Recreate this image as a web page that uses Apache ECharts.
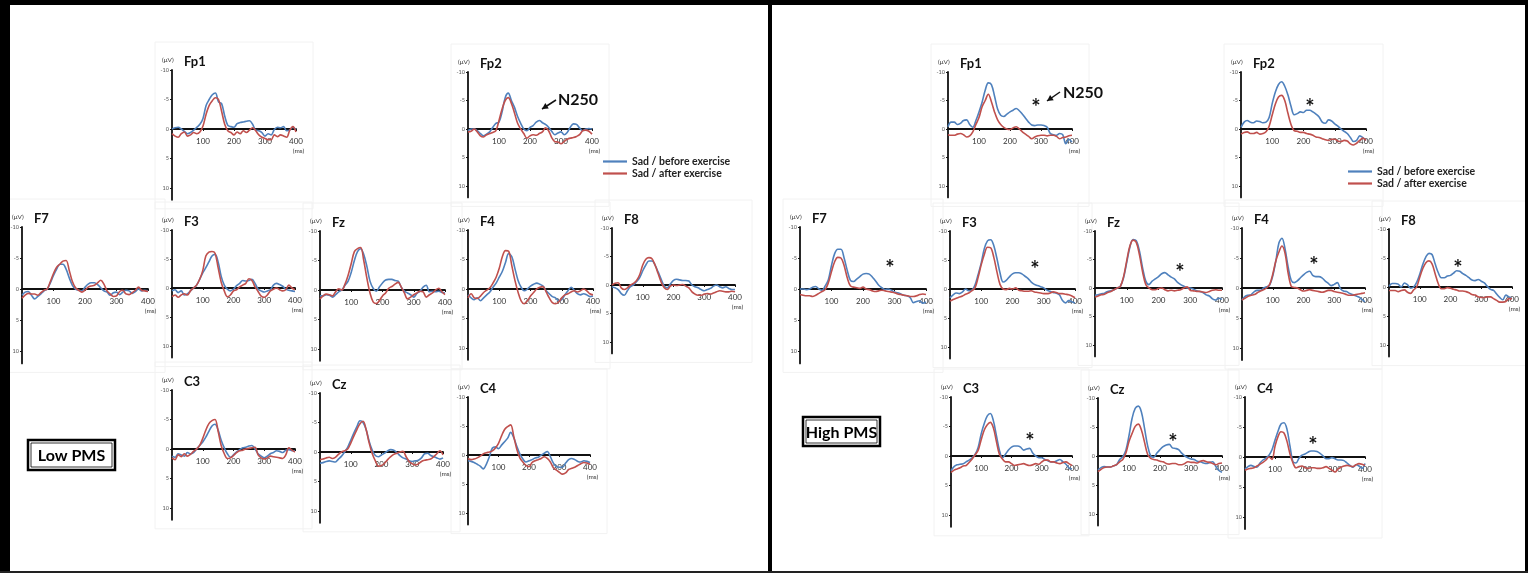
<!DOCTYPE html>
<html><head><meta charset="utf-8">
<script src="https://cdn.jsdelivr.net/npm/echarts@6/dist/echarts.min.js"></script>
<style>html,body{margin:0;padding:0;background:#fff}#c{width:1528px;height:573px}</style>
</head><body><div id="c"></div>
<script>
// ---------------- DATA ----------------
const times = [0,10,20,30,40,50,60,70,80,90,100,110,120,130,140,150,160,170,180,190,200,210,220,230,240,250,260,270,280,290,300,310,320,330,340,350,360,370,380,390,400];
const xTickLabels = [100,200,300,400];
const yTickLabels = [-10,-5,0,5,10];
const electrodes = ['Fp1','Fp2','F7','F3','Fz','F4','F8','C3','Cz','C4'];
const seriesNames = ['Sad / before exercise','Sad / after exercise'];
const groupNames = ['Low PMS','High PMS'];

// Low PMS (µV, negative up)
const lowFp1Before = [0,-0.2,-0.3,0,0.4,0.8,0.6,0.2,-0.3,-0.8, -1.8,-4.0,-5.0,-5.8,-6.1,-4.6,-4.3,-2.2,-0.6,-0.4, -0.3,-0.9,-1.1,-1.2,-1.3,-1.4,-0.8,0.2,0.3,0.6, 1.2,0.8,1.0,0.1,-0.3,-0.2,-0.4,0.3,0.2,-0.3, 0.1];
const lowFp1After  = [0.8,1.2,1.4,0.8,0.5,1.2,1.0,0.6,0.8,0.5, -0.5,-2.5,-4.0,-4.8,-5.3,-5.0,-3.0,-0.8,0.3,0.6, 1.0,0.5,0.8,0.3,0.6,0.2,-0.2,0.3,1.0,1.4, 1.6,1.8,1.8,1.0,1.3,1.0,1.2,1.4,0.2,-0.4, 0.5];
const lowFp2Before = [0.3,0,0,0.3,0.8,1.2,0.9,0.5,-0.3,-1.0, -1.2,-3.0,-5.5,-6.3,-5.0,-3.8,-2.2,-1.0,0,0.3, -0.3,-0.6,-1.2,-1.5,-1.1,-0.8,-0.3,0.4,1.0,0.7, 0.5,1.0,0.6,-0.3,-0.9,-0.8,-0.2,0.3,0,-0.1, 0];
const lowFp2After  = [0.5,0.4,0,0.5,1.2,1.4,1.0,0.8,0.6,0.3, -1.5,-3.5,-5.0,-5.5,-4.5,-2.8,-1.0,0,0.8,1.6, 1.2,1.0,1.1,0.8,0.5,-0.2,0.3,1.5,2.2,2.3, 2.6,2.2,1.8,1.6,1.5,1.3,1.0,0.3,0.2,0.4, 0.9];
const lowF7Before  = [1.0,0.5,0.4,1.0,1.6,1.2,0.8,0.3,0,-1.0, -2.2,-3.2,-4.0,-4.0,-3.2,-1.8,-0.6,0,0.2,0.3, -0.3,-0.8,-1.0,-1.0,-0.7,-0.2,0.3,0.5,1.0,0.6, 0.5,0.9,0.5,0.2,0.3,0.7,0.4,0,0.3,0.2, 0.3];
const lowF7After   = [1.5,1.0,0.7,0.8,0.8,1.0,0.6,0.2,0,-1.2, -2.5,-3.5,-4.0,-4.5,-4.6,-3.0,-1.2,-0.2,0.2,0.5, 0.2,-0.3,-0.5,-0.6,-1.0,-1.4,-0.8,0.3,0.8,1.2, 1.1,0.4,0.2,0.8,0.9,0.6,0.2,-0.3,0.2,0.3, 0.4];
const lowF3Before  = [0.5,0.3,0.8,0.5,1.2,1.0,0.5,0,-0.5,-1.5, -2.6,-3.5,-4.5,-5.5,-5.8,-4.5,-2.0,-0.5,0.2,0.5, 0.2,-0.4,-0.8,-1.3,-1.2,-1.3,-1.5,-0.8,0.2,0.5, 0.7,0.5,0.3,-0.5,-0.8,-0.6,-0.3,0.2,0.4,0.5, 0.6];
const lowF3After   = [1.5,1.2,1.6,1.2,1.0,1.2,0.5,0,-0.5,-1.5, -3.0,-5.5,-6.2,-6.3,-6.0,-3.5,-1.0,0.5,1.5,1.2, 0.5,0.3,-0.2,-0.5,-0.8,-1.6,-1.3,-0.2,0.6,1.4, 1.6,1.2,0.5,0.2,0,0.3,0.5,0.3,-0.5,0, 0.3];
const lowFzBefore  = [1.0,1.0,0.8,0.9,1.2,0.8,0.3,0,-0.8,-1.5, -3.0,-5.0,-6.5,-7.0,-6.0,-4.0,-1.5,-0.3,0.2,-0.5, -1.2,-1.7,-1.8,-1.8,-1.6,-1.5,-0.5,0.2,0.5,0.8, 1.2,0.6,0.2,-0.5,-0.8,0.3,0.2,0.3,0.2,0.4, 0.5];
const lowFzAfter   = [1.5,1.0,0.7,0.8,1.0,0.3,-0.2,0,-1.0,-2.5, -4.5,-6.5,-7.0,-7.2,-5.0,-2.0,0.5,2.0,2.3,1.8, 1.0,0.5,-0.3,-0.6,-1.0,-1.3,-0.5,0.5,1.5,1.2, 0.8,0.5,0.2,0.3,1.2,0.8,0.5,0,-0.3,0.3, 0.8];
const lowF4Before  = [1.0,1.5,1.8,1.5,2.0,1.5,1.0,0.5,-0.3,-1.0, -2.0,-3.0,-4.5,-6.0,-5.5,-3.5,-1.5,-0.3,0.3,0, -0.5,-0.8,-1.0,-0.8,-0.5,0.3,0.8,1.3,1.5,2.0, 1.8,1.0,0.3,-0.3,0.2,0.8,1.0,0.8,1.0,1.3, 1.2];
const lowF4After   = [1.5,0.8,1.5,1.6,1.2,0.6,0.2,-0.2,-1.0,-2.0, -3.5,-5.5,-6.5,-6.4,-4.0,-1.5,0.5,2.0,2.5,2.0, 1.2,0.6,0,-0.3,-0.4,0.5,1.5,2.3,2.5,2.2, 1.5,1.0,0.8,0.5,0.3,0.5,0.3,0,0.3,0.8, 1.0];
const lowF8Before  = [0.3,0.5,0.8,1.5,1.8,1.0,0.3,0,-0.6,-1.3, -2.5,-3.5,-4.2,-4.2,-3.5,-2.3,-1.0,0.2,0.5,-0.2, -0.8,-1.0,-0.9,-0.8,-0.8,-0.7,0,0.3,0.5,0.8, 1.0,0.8,0.6,0.2,0,0.3,0.5,0.3,0.6,0.8, 0.8];
const lowF8After   = [0,-0.3,-0.4,0.5,0.8,0.5,0,-0.3,-0.8,-1.8, -3.5,-4.5,-4.8,-4.6,-3.5,-2.0,-0.5,0.5,0.8,0.2, 0,0.1,0,-0.1,0.2,0.5,1.2,1.6,1.8,1.8, 1.6,1.5,1.6,1.4,1.2,1.0,1.1,1.2,1.2,1.1, 1.2];
const lowC3Before  = [1.2,1.4,0.8,1.0,1.2,0.6,0.8,0.6,0,-0.6, -1.2,-2.0,-3.0,-3.9,-4.2,-3.2,-1.5,-0.2,0.8,1.4, 1.0,0.5,0.1,-0.2,-0.3,-0.5,-0.6,0,0.8,1.2, 1.5,1.2,0.8,0.6,0.3,0.4,0.6,0.2,0.1,0.3, 0.3];
const lowC3After   = [1.5,1.8,1.0,1.3,0.8,1.2,0.9,0.4,0,-0.6, -1.8,-3.2,-4.3,-4.8,-5.0,-3.0,-0.6,0.8,1.6,1.5, 1.1,0.6,0.3,0.2,0,-0.1,-0.2,-0.3,1.0,1.5, 1.7,1.5,1.2,1.3,1.4,1.5,1.6,1.0,-0.2,0.2, 0.5];
const lowCzBefore  = [1.9,1.8,1.6,1.5,1.6,1.7,1.2,0.7,0,-0.8, -2.0,-3.2,-4.3,-5.3,-5.0,-3.8,-1.8,-0.3,0.6,0.8, 0.5,0.2,-0.2,-0.4,-0.3,0.1,0.6,1.0,1.2,1.5, 1.6,1.5,1.4,1.0,0.3,0.2,0.6,0.8,1.0,1.2, 1.0];
const lowCzAfter   = [1.3,1.2,1.0,0.9,1.1,0.9,0.4,0,-0.2,-0.5, -1.5,-2.7,-3.8,-4.8,-5.2,-3.8,-1.5,0.3,1.5,2.4, 2.3,1.9,1.3,0.8,0.4,0.2,0,-0.1,0.8,1.6, 2.0,2.2,2.0,1.6,1.4,1.3,1.2,0.8,0.3,-0.2, 0.5];
const lowC4Before  = [1.0,1.1,1.3,1.6,1.9,2.4,1.6,0.3,-1.2,-1.4, -1.1,-1.7,-2.3,-2.9,-3.9,-3.0,-1.5,-0.2,0.7,1.2, 1.0,0.8,0.5,0.4,0,-0.3,-0.6,0.3,1.4,2.0, 2.1,2.1,1.4,0.8,0.6,0.8,1.1,1.2,1.0,1.1, 1.3];
const lowC4After   = [0.6,0.8,0.7,0.5,0.2,-0.2,-0.4,-0.5,-0.7,-1.2, -2.0,-3.3,-4.4,-4.9,-5.2,-3.2,-1.0,0.5,1.2,1.8, 2.0,1.3,1.0,0.8,0.6,0.3,0.6,1.2,2.2,2.6, 3.0,3.3,3.1,2.5,2.3,2.1,1.8,1.5,1.3,1.4, 1.6];

// High PMS
const highFp1Before = [-0.4,-1.2,-1.2,-0.8,-1.0,-1.5,-1.6,-0.8,-0.3,-1.5, -3.0,-4.7,-6.8,-8.1,-7.8,-5.8,-3.5,-2.4,-2.2,-2.6, -3.0,-3.3,-3.6,-3.2,-2.6,-1.9,-1.2,-0.7,-0.6,-0.7, -0.7,-0.6,-0.3,0.8,1.0,1.1,0.8,1.0,2.6,1.8, 2.3];
const highFp1After  = [1.0,1.1,1.1,0.9,0.8,1.0,1.4,1.2,0.5,-0.8, -2.0,-3.9,-5.0,-6.1,-4.8,-3.0,-1.6,-0.8,-0.3,0, 0.1,-0.2,-0.4,0,0.5,0.9,1.3,1.7,1.4,1.2, 1.1,1.1,1.2,1.1,1.1,1.3,1.7,1.5,1.4,1.2, 1.1];
const highFp2Before = [-0.3,-1.2,-1.5,-1.2,-1.1,-1.4,-1.3,-1.1,-1.2,-2.0, -4.5,-6.5,-7.8,-8.3,-7.5,-6.0,-4.0,-2.5,-2.7,-3.0, -2.9,-3.3,-3.3,-3.0,-2.6,-2.1,-1.2,-1.0,-1.6,-1.4, -0.9,-0.5,0,0.4,0.8,1.5,2.2,2.0,1.2,1.5, 2.0];
const highFp2After  = [0.9,0.6,0.5,0.8,0.8,0.6,0.9,0.8,0.5,-0.5, -2.5,-4.4,-5.6,-5.9,-5.0,-2.8,-0.8,0.3,0.4,0.6, 0.6,0.8,0.9,1.1,1.4,1.5,1.7,1.9,2.0,1.8, 1.8,2.1,2.2,2.0,2.1,2.6,2.8,2.5,2.0,1.6, 2.0];
const highF7Before  = [0,0,0.1,0,-0.3,-0.4,0,0.2,-0.5,-1.5, -3.8,-5.7,-6.4,-6.4,-5.0,-3.0,-1.4,-1.2,-1.6,-2.0, -2.4,-2.5,-2.4,-1.9,-1.3,-0.6,-0.2,0.1,0,0.2, 0.5,0.6,0.8,1.0,1.1,1.4,2.2,2.0,1.9,2.3, 2.1];
const highF7After   = [0.9,1.0,1.1,1.1,1.2,1.0,0.7,0.4,0.1,-1.0, -2.8,-4.4,-5.1,-5.0,-3.8,-1.8,-0.5,-0.3,-0.2,-0.1, -0.3,0,0.1,0.3,0.4,0.3,0.2,0.3,0.4,0.5, 0.6,0.8,0.9,1.0,1.1,1.2,1.2,1.1,0.9,0.8, 0.9];
const highF3Before  = [1.5,1.0,0.7,0.8,0.5,0,0.3,0.2,-0.7,-2.5, -4.5,-7.0,-8.3,-8.5,-7.5,-5.3,-2.8,-1.2,-1.5,-2.1, -2.6,-2.8,-2.8,-2.6,-2.2,-1.8,-1.2,-0.8,-0.6,-0.4, -0.2,0.2,0.4,0.6,0.7,1.0,2.0,2.4,2.0,2.2, 2.4];
const highF3After   = [2.1,1.8,1.6,1.4,1.2,0.9,0.7,0.3,-0.2,-2.0, -4.2,-6.0,-7.2,-7.1,-5.5,-3.0,-0.8,0,0.1,-0.1, 0,-0.2,0.2,0.3,0.4,0.4,0.3,0.5,0.6,0.7, 0.8,0.8,0.7,0.5,0.6,0.8,0.8,0.9,1.0,1.2, 1.5];
const highFzBefore  = [1.3,1.2,1.0,0.9,0.6,0.5,0.3,0,-0.3,-1.8, -4.5,-7.2,-8.5,-8.3,-6.5,-3.5,-1.2,-0.6,-1.2,-1.6, -2.0,-2.5,-2.7,-2.3,-1.9,-1.6,-1.0,-0.6,-0.3,0, 0,0.2,0.5,0.6,0.8,1.2,1.4,1.9,2.1,1.8, 2.0];
const highFzAfter   = [1.6,1.4,1.2,1.1,0.8,0.6,0.3,0,-0.3,-2.0, -4.8,-7.4,-8.4,-8.0,-5.8,-2.8,-0.6,0,0.3,0.3, 0.1,0,0.3,0.5,0.4,0.5,0.4,0.3,0,-0.2, 0.4,0.5,0.6,0.6,0.7,0.8,0.6,0.4,0.3,0.4, 0.4];
const highF4Before  = [2.0,1.4,1.2,1.1,0.6,0.4,0.4,0,-0.2,-0.5, -2.0,-4.5,-7.5,-8.3,-6.5,-3.5,-1.3,-0.9,-1.2,-1.7, -2.2,-2.6,-2.8,-2.1,-1.9,-1.9,-1.7,-1.2,-0.8,-0.4, -0.6,-0.9,0.1,0.5,0.6,0.9,1.1,1.3,1.5,1.9, 2.3];
const highF4After   = [2.0,1.7,1.4,1.2,1.1,0.8,0.5,0.3,0,-0.6, -2.3,-4.5,-6.0,-7.0,-5.8,-2.5,-0.3,-0.1,0,0.3, 0.5,0.4,0.3,0.4,0.5,0.6,0.7,0.6,0.4,0.4, 0.6,0.7,0.8,0.9,1.1,1.2,1.2,1.1,1.0,0.9, 0.8];
const highF8Before  = [-0.1,-0.6,-0.6,-0.5,0,-0.7,-0.4,0.2,0,-0.8, -2.2,-3.9,-5.2,-5.8,-5.6,-4.0,-2.5,-1.6,-1.6,-1.9, -2.0,-2.4,-2.8,-2.7,-2.3,-2.0,-1.6,-1.2,-1.1,-1.3, -1.0,-0.7,-0.1,0.4,0.6,1.2,1.8,2.2,1.4,1.7, 2.0];
const highF8After   = [0.6,0.6,0.6,0.8,0.6,0.5,0.9,1.1,0.5,0, -1.7,-3.2,-4.2,-4.5,-4.0,-2.3,-0.6,0.3,0.3,0.1, 0.2,0.4,0.5,0.7,0.7,0.8,1.0,1.3,1.4,1.7, 1.8,1.8,1.7,1.7,2.0,2.3,2.6,2.6,2.5,2.0, 2.0];
const highC3Before  = [2.5,1.8,1.5,1.4,1.3,1.0,0.7,0.3,-0.3,-1.5, -3.8,-5.5,-6.8,-7.2,-6.0,-3.5,-1.0,0.3,-0.3,-1.0, -1.5,-1.7,-1.7,-1.5,-1.0,-1.2,-1.3,-0.5,0,0.3, 0.3,0.6,0.8,1.0,1.0,0.8,0.6,1.0,1.4,2.0, 2.2];
const highC3After   = [2.8,2.4,2.2,2.0,1.7,1.6,1.1,0.5,-0.2,-1.0, -2.8,-4.4,-5.3,-5.7,-4.8,-2.5,-0.3,0.5,1.0,1.0, 1.3,1.6,1.5,1.4,1.3,1.5,1.6,1.5,1.3,1.4, 1.0,0.7,0.7,1.0,1.0,1.2,1.3,1.1,1.0,1.3, 1.6];
const highCzBefore  = [2.4,2.0,1.8,1.9,1.9,1.7,1.5,0.6,0.1,-1.0, -3.5,-6.5,-8.2,-8.6,-7.6,-4.8,-1.8,0,0.2,-0.5, -1.1,-1.6,-1.9,-2.0,-1.4,-1.3,-1.1,-0.5,0,0.3, 0.5,0.6,0.9,1.0,1.2,1.3,1.1,1.0,1.8,2.5, 2.8];
const highCzAfter   = [2.7,2.3,2.0,1.9,1.9,1.7,1.5,1.0,0.6,-0.5, -2.5,-3.9,-5.1,-5.5,-4.5,-2.4,-0.3,0.4,0.6,0.7, 0.9,1.0,1.3,1.4,1.3,1.3,1.5,1.5,1.3,1.0, 1.1,1.1,1.2,0.9,0.8,1.0,1.1,1.3,1.5,1.3, 1.2];
const highC4Before  = [2.0,1.6,1.4,1.6,1.7,1.0,0.5,0.2,-0.3,-1.2, -2.8,-4.3,-5.5,-5.7,-4.6,-1.8,0.8,1.0,0.2,-0.3, -0.5,-0.8,-1.0,-1.0,-0.9,-0.6,-0.2,0.3,0.3,0.1, 0.3,0.5,0.5,0.6,1.0,1.4,1.7,1.3,1.5,1.9, 1.1];
const highC4After   = [2.2,2.0,1.9,1.8,1.5,1.2,0.9,0.5,0,0.4, -1.8,-3.4,-4.2,-4.0,-2.6,-0.5,1.0,1.8,1.6,1.5, 1.8,1.9,1.8,1.8,1.9,1.9,1.8,1.6,1.9,2.2, 2.5,2.0,1.7,1.5,1.4,1.5,1.6,1.3,1.1,1.2, 1.4];

const lowData = {
  Fp1:[lowFp1Before,lowFp1After], Fp2:[lowFp2Before,lowFp2After], F7:[lowF7Before,lowF7After],
  F3:[lowF3Before,lowF3After], Fz:[lowFzBefore,lowFzAfter], F4:[lowF4Before,lowF4After],
  F8:[lowF8Before,lowF8After], C3:[lowC3Before,lowC3After], Cz:[lowCzBefore,lowCzAfter], C4:[lowC4Before,lowC4After]
};
const highData = {
  Fp1:[highFp1Before,highFp1After], Fp2:[highFp2Before,highFp2After], F7:[highF7Before,highF7After],
  F3:[highF3Before,highF3After], Fz:[highFzBefore,highFzAfter], F4:[highF4Before,highF4After],
  F8:[highF8Before,highF8After], C3:[highC3Before,highC3After], Cz:[highCzBefore,highCzAfter], C4:[highC4Before,highC4After]
};

// ---------------- LAYOUT (pixels): [axis x, x at 400 ms, y at -10 µV, y at 0 µV] ----------------
const lowLayout = {
  Fp1:[172,296,70,129], Fp2:[468,592,72,129],
  F7:[22,148,227,289], F3:[172,295,230,288], Fz:[320,445,231,290], F4:[468,593,230,289], F8:[612,735,228,285],
  C3:[172,295,390,449], Cz:[320,443,393,452], C4:[468,590,397,455]
};
const highLayout = {
  Fp1:[948,1072,72,129], Fp2:[1241,1366,72,129],
  F7:[800,926,227,289], F3:[950,1075,231,289], Fz:[1095,1222,231,288], F4:[1242,1365,228,288], F8:[1389,1512,229,287],
  C3:[951,1072,397,456], Cz:[1098,1222,398,456], C4:[1245,1365,397,457]
};
const COLORS = ['#4f81bd','#c0504d'];
const FONT = 'Lato, "Liberation Sans", sans-serif';

// ---------------- BUILD ----------------
const grids=[], xAxes=[], yAxes=[], series=[], G=[];

function addPanel(layout, data){
  electrodes.forEach(e=>{
    const [x0,x1,yt,y0] = layout[e];
    const h = (y0-yt)*2.2;
    const idx = grids.length;
    // faint frame of the pasted sub-figure
    G.push({type:'rect', z:-1, shape:{x:x0-17,y:yt-28,width:(x1-x0)+34,height:h+37}, style:{fill:'none',stroke:'#f2f2f2',lineWidth:1}});
    grids.push({left:x0, top:yt, width:x1-x0, height:h, containLabel:false});
    xAxes.push({
      type:'value', gridIndex:idx, min:0, max:400, interval:100, position:'bottom',
      offset: -(h - (y0-yt)),   // move the whole x axis (line, ticks, labels) up to the 0 µV level
      axisLine:{show:true,onZero:false,lineStyle:{color:'#111',width:1.8}},
      axisTick:{show:true,length:2,lineStyle:{color:'#111',width:1}, customValues:xTickLabels},
      splitLine:{show:false},
      axisLabel:{customValues:xTickLabels, fontSize:8, color:'#333', margin:8, fontFamily:FONT,
        formatter:v=> v===400 ? '400\n{u|(ms)}' : String(v),
        rich:{u:{fontSize:6.5,color:'#333',padding:[2,0,0,5],fontFamily:FONT}}}
    });
    yAxes.push({
      type:'value', gridIndex:idx, min:-10, max:12, interval:5, inverse:true,
      axisLine:{show:true,onZero:false,lineStyle:{color:'#111',width:1.8}},
      axisTick:{show:true,length:2,lineStyle:{color:'#111',width:1}, customValues:yTickLabels},
      splitLine:{show:false},
      axisLabel:{customValues:yTickLabels, fontSize:5.5, color:'#555', margin:3, fontFamily:FONT}
    });
    data[e].forEach((arr,k)=>{
      series.push({
        type:'line', name:seriesNames[k], xAxisIndex:idx, yAxisIndex:idx,
        data: times.map((t,i)=>[t,arr[i]]),
        symbol:'none', smooth:0.35, z:2+k,
        lineStyle:{width:1.6,color:COLORS[k]}, itemStyle:{color:COLORS[k]},
        emphasis:{disabled:true}
      });
    });
    // subplot header: (µV)  name
    G.push({type:'text', left:x0-10, top:yt-14, style:{text:'(\u03bcV)', fontSize:6.5, fontFamily:FONT, fill:'#333'}});
    G.push({type:'text', left:x0+12, top:yt-15, style:{text:e, fontSize:13, fontWeight:'bold', fontFamily:FONT, fill:'#111'}});
  });
}
addPanel(lowLayout, lowData);
addPanel(highLayout, highData);

// outer borders
G.push({type:'rect', shape:{x:0,y:0,width:1528,height:5}, style:{fill:'#000'}});
G.push({type:'rect', shape:{x:0,y:0,width:10,height:573}, style:{fill:'#000'}});
G.push({type:'rect', shape:{x:768,y:0,width:4,height:573}, style:{fill:'#000'}});
G.push({type:'rect', shape:{x:1525,y:0,width:3,height:573}, style:{fill:'#000'}});
G.push({type:'rect', shape:{x:0,y:571,width:1528,height:2}, style:{fill:'#222'}});

// group label boxes
function groupBox(x,y,w,hh,label){
  G.push({type:'rect', shape:{x,y,width:w,height:hh}, style:{fill:'#fff',stroke:'#000',lineWidth:2.5}});
  G.push({type:'rect', shape:{x:x+3,y:y+3,width:w-6,height:hh-6}, style:{fill:'none',stroke:'#000',lineWidth:0.8}});
  G.push({type:'text', x:x+w/2, y:y+hh/2+1, style:{text:label, fontSize:16, fontWeight:'bold', fontFamily:FONT, fill:'#000', align:'center', verticalAlign:'middle'}});
}
groupBox(28,440,87,30,groupNames[0]);
groupBox(803,417,77,29,groupNames[1]);

// annotations
function star(x,y){ G.push({type:'text', x, y, style:{text:'*', fontSize:22, fontWeight:'bold', fontFamily:FONT, fill:'#111', align:'center', verticalAlign:'middle'}}); }
function arrow(x1,y1,x2,y2){
  G.push({type:'line', shape:{x1,y1,x2,y2}, style:{stroke:'#111',lineWidth:1.5}});
  const a=Math.atan2(y2-y1,x2-x1), L=6, W=3.2;
  const bx=x2-L*Math.cos(a), by=y2-L*Math.sin(a);
  G.push({type:'polygon', shape:{points:[[x2,y2],[bx+W*Math.sin(a),by-W*Math.cos(a)],[bx-W*Math.sin(a),by+W*Math.cos(a)]]}, style:{fill:'#111'}});
}
function label(x,y,t){ G.push({type:'text', x, y, style:{text:t, fontSize:16, fontWeight:'bold', fontFamily:FONT, fill:'#111', align:'center', verticalAlign:'middle'}}); }
label(578,100,'N250'); arrow(556,100,542,109);
label(1083,93,'N250'); arrow(1060,92,1047,101);
[[1036,108],[1310,108],[890,269],[1035,270],[1180,273],[1314,266],[1458,269],[1030,442],[1173,443],[1313,446]].forEach(p=>star(p[0],p[1]));

const legendCommon = {
  data:seriesNames, orient:'vertical', icon:'rect', itemWidth:24, itemHeight:2.2, itemGap:1, selectedMode:false,
  textStyle:{fontSize:10.5, fontWeight:'bold', color:'#222', fontFamily:FONT}
};

const chart = echarts.init(document.getElementById('c'), null, {renderer:'canvas'});
chart.setOption({
  animation:false,
  backgroundColor:'#fff',
  textStyle:{fontFamily:FONT},
  grid:grids, xAxis:xAxes, yAxis:yAxes, series,
  legend:[
    Object.assign({left:598, top:151}, legendCommon),
    Object.assign({left:1343, top:161}, legendCommon)
  ],
  graphic:{elements:G}
});
</script>
</body></html>
